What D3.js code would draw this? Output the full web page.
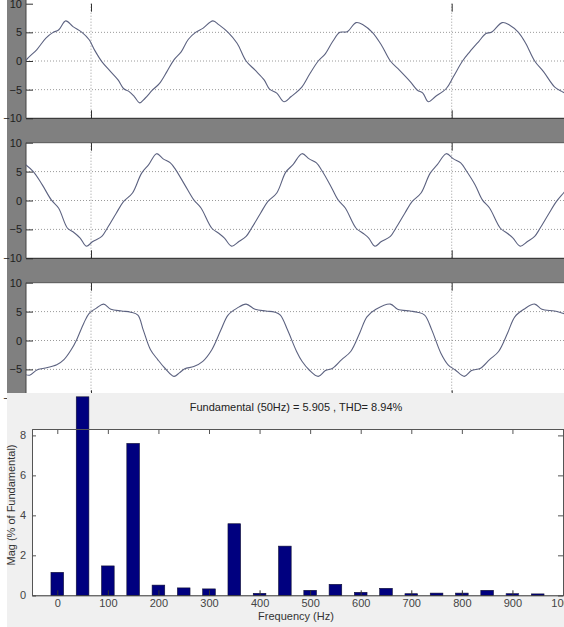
<!DOCTYPE html>
<html>
<head>
<meta charset="utf-8">
<script src="https://cdn.jsdelivr.net/npm/d3@7"></script>
<style>
  html, body { margin: 0; padding: 0; background: #ffffff; }
  svg { display: block; font-family: "Liberation Sans", Arial, sans-serif; }
</style>
</head>
<body>
<svg id="chart" width="564" height="627"></svg>
<script>
// ---- Waveform data: [time (ms), amplitude] ----
const waveA = [
  [40.5,-0.7],[41.25,0.5],[42.5,2.0],[43.75,4.0],[44.75,5.0],[45.5,5.4],[46.5,7.0],[47.5,6.0],
  [48.75,5.0],[49.75,3.7],[50.5,1.9],[51.5,-0.1],[52.75,-1.9],[53.75,-3.3],[54.5,-4.8],[55.25,-5.3],
  [56.0,-6.2],[56.75,-7.3],[57.5,-6.5],[58.5,-5.1],[59.5,-3.9],[60.5,-1.9],[61.5,0.2],[62.5,1.6],
  [63.5,3.8],[64.5,5.0],[65.5,5.7],[66.9,7.0],[67.75,6.3],[69.0,5.0],[70.25,3.1],[71.5,0],
  [72.75,-1.6],[74.0,-3.3],[74.75,-4.9],[75.75,-5.6],[76.75,-7.1],[77.75,-6.2],[79.25,-4.5],[80.25,-2.4],
  [81.5,0],[82.5,1.3],[83.5,3.4],[84.5,5.0],[85.5,5.1],[86.75,6.7],[87.75,6.3],[89.0,5.0],
  [90.25,2.8],[91.5,0],[92.75,-1.6],[94.25,-3.6],[95.25,-5.1],[96.0,-5.6],[96.75,-7.1],[97.75,-6.2],
  [99.25,-4.8],[100.25,-2.7],[101.5,0],[102.5,1.6],[103.75,3.4],[104.75,4.8],[105.5,5.0],[107.0,6.7],
  [108.0,6.3],[109.25,5.0],[110.25,3.1],[111.5,0],[112.75,-1.9],[114.25,-4.5],[115.25,-5.3],[116.0,-5.8]
];
const waveB = [
  [40.5,6.6],[42.0,5.0],[43.25,2.7],[44.5,0.1],[45.5,-1.3],[46.75,-4.8],[47.5,-5.4],[48.5,-6.5],
  [49.35,-7.9],[50.25,-7.1],[51.5,-6.2],[52.25,-4.8],[53.5,-2.2],[54.5,-0.2],[55.75,1.3],[57.0,4.7],
  [58.0,6.2],[59.1,8.1],[60.0,7.2],[61.0,6.5],[61.75,5.3],[63.0,2.7],[64.25,0.1],[65.25,-1.3],
  [66.75,-4.8],[67.75,-5.7],[68.5,-6.5],[69.5,-7.9],[70.5,-7.1],[71.5,-6.2],[72.25,-4.8],[73.5,-2.2],
  [74.5,-0.2],[75.75,1.3],[77.0,4.9],[78.0,6.2],[79.25,8.1],[80.25,7.2],[81.25,6.5],[82.0,5.2],
  [83.15,2.7],[84.25,0.1],[85.25,-1.3],[86.75,-4.8],[87.75,-5.7],[88.5,-6.5],[89.35,-7.9],[90.25,-7.1],
  [91.5,-6.2],[92.25,-4.8],[93.5,-2.2],[94.5,-0.2],[95.75,1.3],[97.0,4.7],[98.0,6.2],[99.25,8.1],
  [100.25,7.2],[101.25,6.5],[102.0,5.2],[103.25,2.7],[104.25,0.1],[105.25,-1.3],[106.75,-4.8],[107.75,-5.7],
  [108.5,-6.5],[109.5,-7.9],[110.5,-7.1],[111.5,-6.2],[112.25,-4.8],[113.5,-2.2],[114.5,-0.2],[115.5,1.3],
  [116.25,2.4]
];
const waveC = [
  [40.5,-5.7],[41.5,-6.0],[42.5,-5.1],[43.5,-4.8],[45.25,-4.2],[46.25,-3.3],[47.25,-1.6],[48.0,0.1],
  [49.0,3.0],[49.75,4.7],[50.75,5.6],[51.75,6.3],[52.75,5.4],[54.25,5.1],[55.5,4.9],[56.5,4.4],
  [57.25,1.8],[58.25,-1.6],[59.25,-3.3],[60.25,-4.8],[61.5,-6.2],[62.25,-5.6],[63.0,-4.9],[64.25,-4.5],
  [65.5,-3.6],[66.75,-1.6],[68.0,1.8],[69.0,4.4],[70.25,5.6],[71.5,6.3],[72.75,5.4],[74.25,5.1],
  [75.5,4.9],[76.25,4.4],[77.25,1.8],[78.5,-1.9],[79.25,-3.6],[80.25,-5.1],[81.5,-6.2],[82.5,-5.2],
  [83.5,-4.8],[84.75,-3.3],[86.0,-1.9],[87.25,1.3],[88.25,4.1],[89.5,5.4],[91.5,6.3],[92.5,5.4],
  [94.25,5.1],[95.25,4.9],[96.25,4.4],[97.25,1.8],[98.5,-2.2],[99.5,-4.2],[100.5,-5.1],[101.75,-6.2],
  [102.75,-5.2],[104.0,-4.8],[105.25,-3.3],[106.5,-1.9],[107.75,1.3],[108.75,4.1],[110.0,5.4],[111.5,6.3],
  [112.5,5.4],[114.25,5.1],[115.4,4.7],[116.25,4.4]
];
const waveYTicks = [-10, -5, 0, 5, 10];
const waveXTicks = [50, 100];

// ---- Harmonic spectrum ----
const freqs = [0,50,100,150,200,250,300,350,400,450,500,550,600,650,700,750,800,850,900,950];
const mags  = [1.15,9.93,1.47,7.6,0.51,0.37,0.32,3.58,0.1,2.46,0.25,0.55,0.15,0.35,0.08,0.11,0.11,0.25,0.08,0.07];
const freqTicks = [0,100,200,300,400,500,600,700,800,900,1000];
const magTicks = [0,2,4,6,8];
const titleText = "Fundamental (50Hz) = 5.905 , THD= 8.94%";
const xLabel = "Frequency (Hz)";
const yLabel = "Mag (% of Fundamental)";

const svg = d3.select("#chart");
const W = 564, H = 627;

// white margin strip on the far left, then the figure background for the waveform stack
svg.append("rect").attr("x", 0).attr("y", 0).attr("width", 7).attr("height", H).attr("fill", "#ffffff");
svg.append("rect").attr("x", 7).attr("y", 0).attr("width", W - 7).attr("height", 393).attr("fill", "#808080");

const xT = d3.scaleLinear().domain([50, 100]).range([91, 451.7]);
const panels = [
  { data: waveA, top: 3.7, bottom: 118.3, clipTop: 0 },
  { data: waveB, top: 142.7, bottom: 258.3, clipTop: 142.7 },
  { data: waveC, top: 282.7, bottom: 398.3, clipTop: 282.7 }
];
const plotLeft = 26, plotRight = 570;

panels.forEach((p, i) => {
  const y = d3.scaleLinear().domain([-10, 10]).range([p.bottom, p.top]);
  const g = svg.append("g");
  const clipId = "clip" + i;
  svg.append("clipPath").attr("id", clipId)
    .append("rect").attr("x", plotLeft).attr("y", p.clipTop)
    .attr("width", plotRight - plotLeft).attr("height", p.bottom - p.clipTop);

  g.append("rect").attr("x", plotLeft).attr("y", p.clipTop)
    .attr("width", plotRight - plotLeft).attr("height", p.bottom - p.clipTop)
    .attr("fill", "#ffffff");

  // dotted grid
  g.selectAll(".hg").data([-5, 0, 5]).join("line")
    .attr("x1", plotLeft).attr("x2", plotRight)
    .attr("y1", d => y(d)).attr("y2", d => y(d))
    .attr("stroke", "#9a9a9a").attr("stroke-width", 1).attr("stroke-dasharray", "1,2");
  g.selectAll(".vg").data(waveXTicks).join("line")
    .attr("x1", d => xT(d)).attr("x2", d => xT(d))
    .attr("y1", p.top).attr("y2", p.bottom)
    .attr("stroke", "#9a9a9a").attr("stroke-width", 1).attr("stroke-dasharray", "1,2");

  // inward ticks and tick labels
  const yAxis = d3.axisLeft(y).tickValues(waveYTicks).tickSize(-7).tickPadding(4).tickFormat(d3.format("d"));
  const ag = g.append("g").attr("transform", `translate(${plotLeft},0)`).call(yAxis);
  ag.select(".domain").remove();
  ag.selectAll(".tick line").attr("stroke", "#333");
  ag.selectAll(".tick text").attr("fill", "#1e1e1e").attr("font-size", 11)
    .attr("font-family", "Liberation Sans, Arial, sans-serif");

  const xTop = d3.axisTop(xT).tickValues(waveXTicks).tickSize(-8).tickFormat("");
  const xBot = d3.axisBottom(xT).tickValues(waveXTicks).tickSize(-8).tickFormat("");
  const tg = g.append("g").attr("transform", `translate(0,${p.top})`).call(xTop);
  tg.select(".domain").remove(); tg.selectAll(".tick line").attr("stroke", "#333");
  const bg = g.append("g").attr("transform", `translate(0,${p.bottom})`).call(xBot);
  bg.select(".domain").remove(); bg.selectAll(".tick line").attr("stroke", "#333");

  // axes box edges
  g.append("line").attr("x1", plotLeft).attr("x2", plotRight).attr("y1", p.bottom).attr("y2", p.bottom)
    .attr("stroke", "#222").attr("stroke-width", 1);
  if (i > 0) {
    g.append("line").attr("x1", plotLeft).attr("x2", plotRight).attr("y1", p.top).attr("y2", p.top)
      .attr("stroke", "#555").attr("stroke-width", 1);
  }
  g.append("line").attr("x1", plotLeft).attr("x2", plotLeft).attr("y1", p.clipTop).attr("y2", p.bottom)
    .attr("stroke", "#444").attr("stroke-width", 1);

  const line = d3.line().x(d => xT(d[0])).y(d => y(d[1])).curve(d3.curveCatmullRom.alpha(0.5));
  g.append("path").datum(p.data)
    .attr("clip-path", `url(#${clipId})`)
    .attr("d", line).attr("fill", "none")
    .attr("stroke", "#5c6280").attr("stroke-width", 1.1);
});

// ---- Spectrum figure ----
const fig = svg.append("g");
fig.append("rect").attr("x", 7).attr("y", 393).attr("width", W - 7).attr("height", H - 393).attr("fill", "#f0f0f0");

const bx = d3.scaleLinear().domain([-50, 1000]).range([32, 563]);
const by = d3.scaleLinear().domain([0, 8.32]).range([595.3, 429]);
const barW = bx(25) - bx(0);

fig.append("rect").attr("x", 32).attr("y", 429).attr("width", 563 - 32).attr("height", 595.3 - 429).attr("fill", "#ffffff");

fig.selectAll(".bar").data(freqs.map((f, i) => ({ f, m: mags[i] }))).join("rect")
  .attr("x", d => bx(d.f) - barW / 2)
  .attr("y", d => by(d.m))
  .attr("width", barW)
  .attr("height", d => by(0) - by(d.m))
  .attr("fill", "#00007f").attr("stroke", "#111133").attr("stroke-width", 0.6);

// axes
const axB = fig.append("g").attr("transform", "translate(0,595.3)")
  .call(d3.axisBottom(bx).tickValues(freqTicks).tickSize(-5).tickPadding(4).tickFormat(d3.format("d")));
axB.select(".domain").attr("stroke", "#333");
axB.selectAll(".tick line").attr("stroke", "#333");
axB.selectAll(".tick text").attr("fill", "#444").attr("font-size", 11)
  .attr("font-family", "Liberation Sans, Arial, sans-serif");

const axT = fig.append("g").attr("transform", "translate(0,429)")
  .call(d3.axisTop(bx).tickValues(freqTicks).tickSize(-5).tickFormat(""));
axT.select(".domain").attr("stroke", "#555");
axT.selectAll(".tick line").attr("stroke", "#555");

const axL = fig.append("g").attr("transform", "translate(32,0)")
  .call(d3.axisLeft(by).tickValues(magTicks).tickSize(-4).tickPadding(6).tickFormat(d3.format("d")));
axL.select(".domain").attr("stroke", "#555");
axL.selectAll(".tick line").attr("stroke", "#555");
axL.selectAll(".tick text").attr("fill", "#444").attr("font-size", 11)
  .attr("font-family", "Liberation Sans, Arial, sans-serif");

const axR = fig.append("g").attr("transform", "translate(563,0)")
  .call(d3.axisRight(by).tickValues(magTicks).tickSize(-5).tickFormat(""));
axR.select(".domain").attr("stroke", "#555");
axR.selectAll(".tick line").attr("stroke", "#555");

fig.append("text").attr("x", 296).attr("y", 411).attr("text-anchor", "middle")
  .attr("font-size", 11).attr("fill", "#222").text(titleText);
fig.append("text").attr("x", 296).attr("y", 620).attr("text-anchor", "middle")
  .attr("font-size", 11).attr("fill", "#333").text(xLabel);
fig.append("text").attr("transform", "translate(15,505) rotate(-90)").attr("text-anchor", "middle")
  .attr("font-size", 11).attr("fill", "#333").text(yLabel);
</script>
</body>
</html>
